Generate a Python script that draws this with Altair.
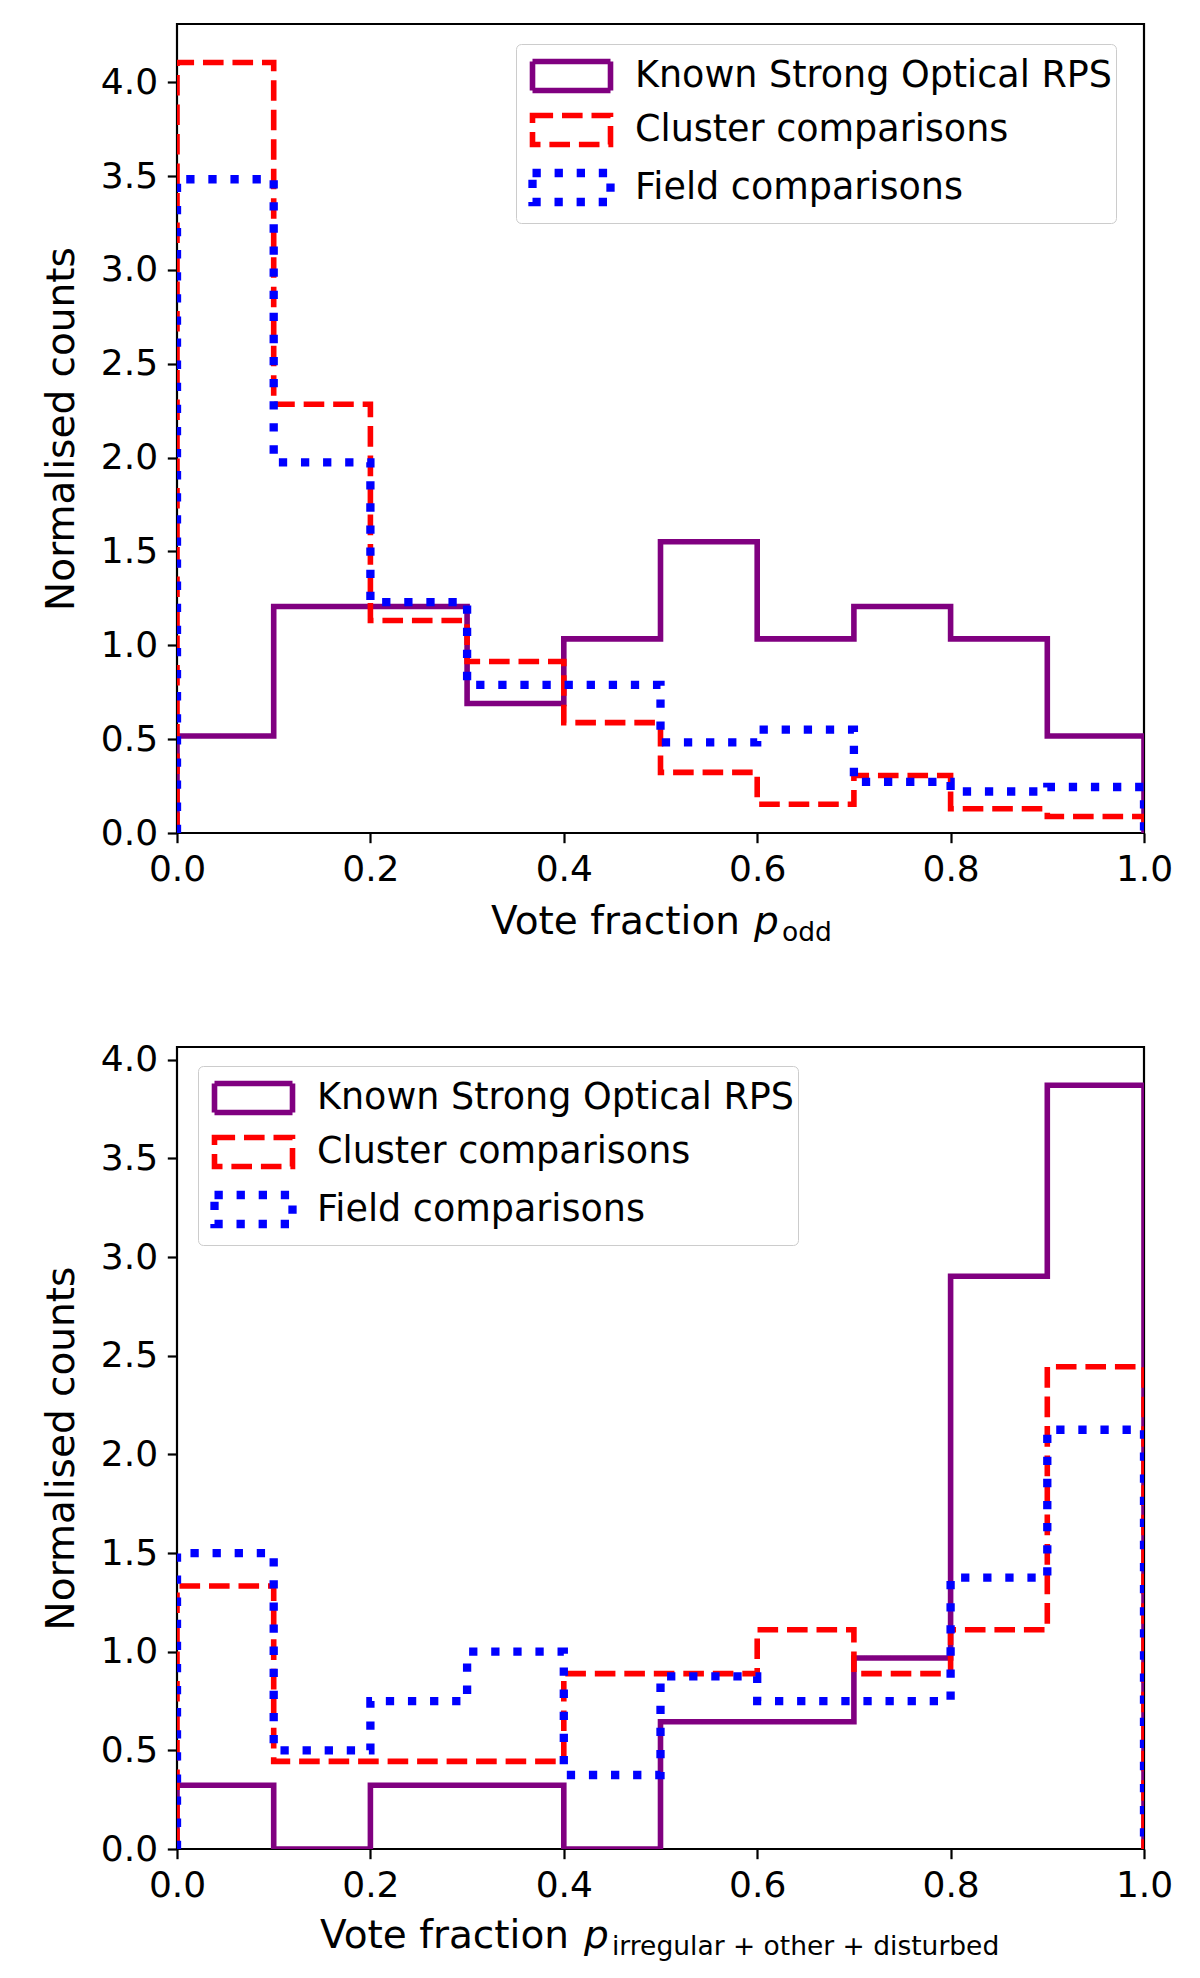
"""Vote-fraction step histograms (Altair)."""

import altair as alt
import pandas as pd

EDGES = [0.0, 0.1, 0.2, 0.3, 0.4, 0.5, 0.6, 0.7, 0.8, 0.9, 1.0]
SERIES = ["Known Strong Optical RPS", "Cluster comparisons", "Field comparisons"]
X_TICKS = [0.0, 0.2, 0.4, 0.6, 0.8, 1.0]
Y_TICKS = [0.0, 0.5, 1.0, 1.5, 2.0, 2.5, 3.0, 3.5, 4.0]

# top panel: p_odd
odd_known = [0.517, 1.207, 1.207, 0.690, 1.034, 1.552, 1.034, 1.207, 1.034, 0.517]
odd_cluster = [4.105, 2.284, 1.132, 0.914, 0.588, 0.323, 0.153, 0.306, 0.129, 0.088]
odd_field = [3.483, 1.975, 1.230, 0.789, 0.789, 0.483, 0.551, 0.272, 0.221, 0.245]

# bottom panel: p_irregular+other+disturbed
irr_known = [0.323, 0.0, 0.323, 0.323, 0.0, 0.645, 0.645, 0.968, 2.903, 3.871]
irr_cluster = [1.333, 0.444, 0.444, 0.444, 0.889, 0.889, 1.111, 0.889, 1.111, 2.444]
irr_field = [1.500, 0.500, 0.750, 1.000, 0.375, 0.875, 0.750, 0.750, 1.375, 2.125]

FONT = "DejaVu Sans"


def step_frame(known, cluster, field):
    rows = []
    for name, vals in zip(SERIES, [known, cluster, field]):
        pts = [(EDGES[0], 0.0)]
        for i, v in enumerate(vals):
            pts.append((EDGES[i], v))
            pts.append((EDGES[i + 1], v))
        pts.append((EDGES[-1], 0.0))
        for k, (x, y) in enumerate(pts):
            rows.append({"series": name, "x": x, "y": y, "k": k})
    return pd.DataFrame(rows)


def legend(lx, ly):
    return alt.Legend(
        title=None,
        orient="none",
        legendX=lx,
        legendY=ly,
        symbolType="M-1.56,-0.58H1.56V0.58H-1.56Z",
        symbolSize=2500,
        symbolOffset=22,
        symbolFillColor="transparent",
        labelOffset=34,
        labelLimit=800,
        labelFont=FONT,
        labelFontSize=36.5,
        labelColor="black",
        padding=4,
        rowPadding=0,
        fillColor="white",
        strokeColor="#cccccc",
        cornerRadius=5,
    )


def xlabel(sub, x_main, x_p, x_sub, base):
    pieces = pd.DataFrame({"t": ["Vote fraction", "p", sub]})
    main = alt.Chart(pieces.iloc[[0]]).mark_text(
        font=FONT, fontSize=39, align="left", baseline="alphabetic", color="black"
    ).encode(text="t:N", x=alt.value(x_main), y=alt.value(base))
    pchar = alt.Chart(pieces.iloc[[1]]).mark_text(
        font=FONT, fontSize=39, fontStyle="italic", align="left",
        baseline="alphabetic", color="black"
    ).encode(text="t:N", x=alt.value(x_p), y=alt.value(base))
    subs = alt.Chart(pieces.iloc[[2]]).mark_text(
        font=FONT, fontSize=26.5, align="left", baseline="alphabetic", color="black"
    ).encode(text="t:N", x=alt.value(x_sub), y=alt.value(base + 7))
    return [main, pchar, subs]


def panel(df, ymax, height, lx, ly, label_layers):
    lines = alt.Chart(df).mark_line(clip=True, strokeCap="butt", strokeJoin="miter").encode(
        x=alt.X(
            "x:Q",
            scale=alt.Scale(domain=[0, 1], nice=False, zero=False),
            axis=alt.Axis(values=X_TICKS, format=".1f", title=None, labelFlush=False),
        ),
        y=alt.Y(
            "y:Q",
            scale=alt.Scale(domain=[0, ymax], nice=False),
            axis=alt.Axis(values=Y_TICKS, format=".1f", title="Normalised counts",
                          labelFlush=False),
        ),
        color=alt.Color(
            "series:N",
            scale=alt.Scale(domain=SERIES, range=["#800080", "#ff0000", "#0000ff"]),
            legend=legend(lx, ly),
        ),
        strokeDash=alt.StrokeDash(
            "series:N",
            scale=alt.Scale(domain=SERIES, range=[[1, 0], [20.6, 8.9], [8.3, 13.8]]),
            legend=legend(lx, ly),
        ),
        strokeWidth=alt.StrokeWidth(
            "series:N",
            scale=alt.Scale(type="ordinal", domain=SERIES, range=[5.6, 5.6, 8.3]),
            legend=legend(lx, ly),
        ),
        order="k:Q",
    )
    return alt.layer(lines, *label_layers).properties(width=967, height=height)


top = panel(
    step_frame(odd_known, odd_cluster, odd_field),
    4.31, 809, 339, 20,
    xlabel("odd", 314, 577, 605, 910),
)
bottom = panel(
    step_frame(irr_known, irr_cluster, irr_field),
    4.065, 802, 21, 19,
    xlabel("irregular + other + disturbed", 143, 407, 435, 901),
)

chart = (
    alt.vconcat(top, bottom, spacing=92)
    .resolve_scale(color="independent", strokeDash="independent", strokeWidth="independent")
    .resolve_legend(color="independent", strokeDash="independent", strokeWidth="independent")
    .properties(padding={"left": 33, "top": 14, "right": 10, "bottom": 10})
    .configure_view(stroke="black", strokeWidth=2.2)
    .configure_axis(
        grid=False,
        domain=False,
        ticks=True,
        tickSize=9.7,
        tickWidth=2.2,
        tickColor="black",
        labelFont=FONT,
        labelFontSize=36,
        labelColor="black",
        labelPadding=9.7,
        titleFont=FONT,
        titleFontSize=39,
        titleFontWeight="normal",
        titleColor="black",
        titlePadding=19,
    )
)

chart.save("out.html", embed_options={"renderer": "svg", "actions": False})
